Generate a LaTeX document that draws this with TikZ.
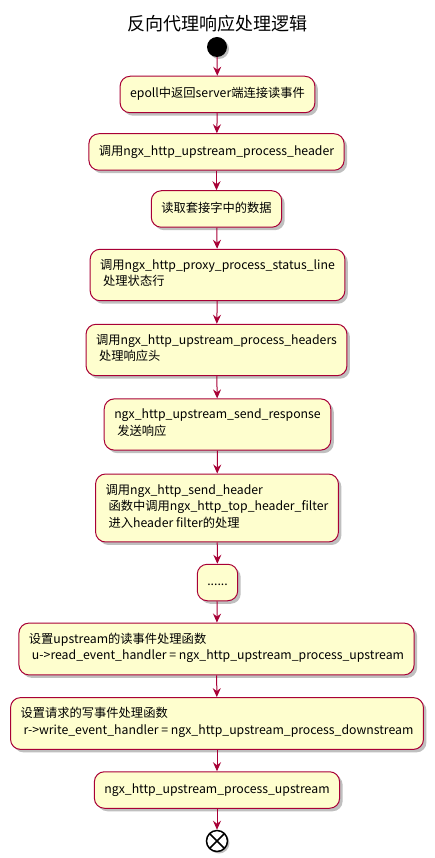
\documentclass[tikz,border=0pt]{standalone}
\usepackage{fontspec}
\setmainfont{Noto Sans CJK SC}
\usetikzlibrary{arrows.meta, shadows}
\definecolor{actfill}{HTML}{FEFECE}
\definecolor{actline}{HTML}{A80036}

\begin{document}
\begin{tikzpicture}[x=1pt, y=-1pt,% styles used in image code
         > = {Stealth[length=9pt, width=8pt, inset=3pt]},
act/.style = {draw=actline, fill=actfill, line width=1pt,
              rounded corners=10pt, align=left,
              inner xsep=10pt, inner ysep=10pt,
              font=\fontsize{12.27}{16.5}\selectfont,
              execute at begin node=\strut, execute at end node=\strut,
              drop shadow={shadow xshift=3pt, shadow yshift=-3pt,
                           fill=black, opacity=0.25}},
flow/.style = {->, draw=actline, line width=1pt},
begin/.style = {circle, fill=black, minimum size=20pt, inner sep=0pt,
              drop shadow={shadow xshift=2pt, shadow yshift=-2pt,
                           fill=black, opacity=0.25}},
finish/.style = {circle, draw=black, line width=1.5pt, fill=white,
              minimum size=21pt, inner sep=0pt,
              path picture={\draw[line width=1.5pt]
                 (path picture bounding box.north west) -- (path picture bounding box.south east)
                 (path picture bounding box.north east) -- (path picture bounding box.south west);},
              drop shadow={shadow xshift=2pt, shadow yshift=-2pt,
                           fill=black, opacity=0.25}}
                        ]
	\useasboundingbox (0,0) rectangle (434,858);

	% title
	\node (title) at (217,24) {\fontsize{18}{22}\selectfont 反向代理响应处理逻辑};

	% activities
	\node[begin]  (start)   at (217,47)    {};
	\node[act]    (epoll)   at (217.5,94.5) {epoll中返回server端连接读事件};
	\node[act]    (prochdr) at (216.5,152) {调用ngx\_http\_upstream\_process\_header};
	\node[act]    (readbuf) at (216.5,209) {读取套接字中的数据};
	\node[act]    (status)  at (217.5,275) {调用ngx\_http\_proxy\_process\_status\_line\\
	                                         \hspace*{.25em}处理状态行};
	\node[act]    (headers) at (216.5,350) {调用ngx\_http\_upstream\_process\_headers\\
	                                         \hspace*{.25em}处理响应头};
	\node[act]    (sendrsp) at (217.5,424.5) {ngx\_http\_upstream\_send\_response\\
	                                         \hspace*{.25em}发送响应};
	\node[act]    (sendhdr) at (217,508)   {调用ngx\_http\_send\_header\\
	                                         \hspace*{.25em}函数中调用ngx\_http\_top\_header\_filter\\
	                                         \hspace*{.25em}进入header filter的处理};
	\node[act]    (dots)    at (217.5,582.5) {......};
	\node[act]    (readev)  at (216.5,649) {设置upstream的读事件处理函数\\
	                                         \hspace*{.25em}u->read\_event\_handler = ngx\_http\_upstream\_process\_upstream};
	\node[act]    (writeev) at (217,723.5) {设置请求的写事件处理函数\\
	                                         \hspace*{.25em}r->write\_event\_handler = ngx\_http\_upstream\_process\_downstream};
	\node[act]    (procup)  at (217,790)   {ngx\_http\_upstream\_process\_upstream};
	\node[finish] (stop)    at (217,841)   {};

	% connectors
	\foreach \a/\b in {start/epoll, epoll/prochdr, prochdr/readbuf, readbuf/status,
	                   status/headers, headers/sendrsp, sendrsp/sendhdr, sendhdr/dots,
	                   dots/readev, readev/writeev, writeev/procup, procup/stop}
		\draw[flow] (\a) -- (\b);
\end{tikzpicture}
\end{document}
